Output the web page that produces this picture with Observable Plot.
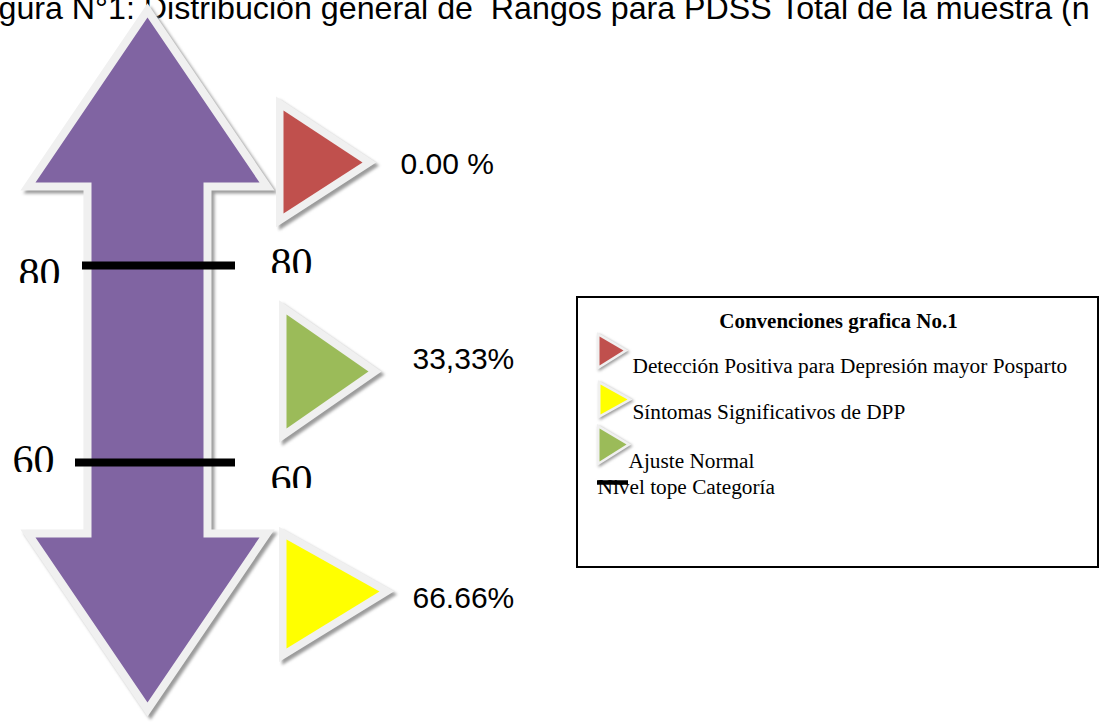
<!DOCTYPE html>
<html>
<head>
<meta charset="utf-8">
<script src="https://cdn.jsdelivr.net/npm/d3@7"></script>
<script src="https://cdn.jsdelivr.net/npm/@observablehq/plot@0.6"></script>
<style>
  html, body { margin: 0; padding: 0; background: #fff; overflow: hidden; }
  #chart svg { display: block; }
</style>
</head>
<body>
<div id="chart"></div>
<script>
// ---------------- DATA ----------------
const titleText = "gura N°1: Distribución general de  Rangos para PDSS Total de la muestra (n";
const levels = [80, 60];                       // category cut-off scores
const bandCategories = [                       // bands from top to bottom
  "Detección Positiva para Depresión mayor Posparto",
  "Ajuste Normal",
  "Síntomas Significativos de DPP"
];
const bandPercentLabels = ["0.00 %", "33,33%", "66.66%"];
const legendTitle = "Convenciones grafica No.1";
const legendCategories = [
  "Detección Positiva para Depresión mayor Posparto",
  "Síntomas Significativos de DPP",
  "Ajuste Normal"
];
const legendLineLabel = "Nivel tope Categoría";

// ---------------- LAYOUT (pixel frame) ----------------
const W = 1102, H = 723;
const arrowGeom = {cx: 147, tipTop: 17, tipBottom: 702, headTop: 182, headBottom: 537, headHalf: 112, shaftHalf: 56};
const levelGeom = {
  80: {y: 265, x1: 82, x2: 235, leftX: 18, leftBase: 286, leftClip: 283, rightX: 270, rightBase: 276, rightClip: 273},
  60: {y: 462, x1: 75, x2: 235, leftX: 12, leftBase: 473, leftClip: 472, rightX: 270, rightBase: 493, rightClip: 488}
};
const bandGeom = [
  {left: 283, top: 110, bottom: 213, tipX: 362, tipY: 162, labelX: 400, labelBase: 173},
  {left: 286, top: 314, bottom: 428, tipX: 368, tipY: 371, labelX: 412, labelBase: 368},
  {left: 286, top: 539, bottom: 648, tipX: 379, tipY: 591, labelX: 412, labelBase: 607}
];
const legendGeom = {
  box: {x1: 577, x2: 1098, y1: 297, y2: 567},
  title: {x: 838, base: 327},
  items: [
    {left: 599, top: 336, bottom: 365, tipX: 623, tipY: 350, textX: 632, textBase: 372},
    {left: 600, top: 384, bottom: 414, tipX: 627, tipY: 399, textX: 632, textBase: 418},
    {left: 599, top: 428, bottom: 461, tipX: 626, tipY: 444, textX: 628, textBase: 467}
  ],
  line: {x1: 597, x2: 628, y: 482, textX: 597, textBase: 493}
};

const colorRange = ["#C0504D", "#9BBB59", "#FFFF00"];
const purple = "#8064A2", border = "#f0f0f0", shadow = "#9b9b9b";

// polygon helper: closed path starting at the middle of the first edge
function poly(id, cat, pts) {
  const a = pts[0], b = pts[1];
  const mid = [(a[0] + b[0]) / 2, (a[1] + b[1]) / 2];
  const seq = [mid, ...pts.slice(1), a, mid];
  return seq.map(([x, y]) => ({id, cat, x, y}));
}
const tri = g => [[g.left, g.top], [g.tipX, g.tipY], [g.left, g.bottom]];

const A = arrowGeom;
const arrowRows = poly("arrow", null, [
  [A.cx - A.shaftHalf, A.headTop],
  [A.cx - A.headHalf, A.headTop],
  [A.cx, A.tipTop],
  [A.cx + A.headHalf, A.headTop],
  [A.cx + A.shaftHalf, A.headTop],
  [A.cx + A.shaftHalf, A.headBottom],
  [A.cx + A.headHalf, A.headBottom],
  [A.cx, A.tipBottom],
  [A.cx - A.headHalf, A.headBottom],
  [A.cx - A.shaftHalf, A.headBottom]
]);
const bandTriRows = bandCategories.flatMap((c, i) => poly("band" + i, c, tri(bandGeom[i])));
const legendTriRows = legendCategories.flatMap((c, i) => poly("leg" + i, c, tri(legendGeom.items[i])));

const levelRows = levels.map(v => ({v, ...levelGeom[v]}));
const bandLabelRows = bandPercentLabels.map((t, i) => ({t, ...bandGeom[i]}));
const legendTextRows = legendCategories.map((t, i) => ({t, ...legendGeom.items[i]}));

const polyOpts = {x: "x", y: "y", z: "id", curve: "linear", strokeLinejoin: "miter", strokeMiterlimit: 10, strokeLinecap: "butt"};

const chart = Plot.plot({
  width: W, height: H,
  margin: 0,
  x: {domain: [0, W], range: [0, W], axis: null},
  y: {domain: [0, H], range: [0, H], axis: null},
  color: {type: "ordinal", domain: bandCategories, range: colorRange},
  style: {background: "white", overflow: "hidden"},
  marks: [
    // title
    Plot.text([titleText], {x: -2, y: 18, text: d => d, textAnchor: "start", lineAnchor: "bottom",
      fontFamily: "Liberation Sans, Arial, sans-serif", fontSize: 32.2, fill: "black"}),

    // arrow: shadow, border, fill
    Plot.line(arrowRows, {...polyOpts, fill: shadow, stroke: shadow, strokeWidth: 16, dx: 3, dy: 3}),
    Plot.line(arrowRows, {...polyOpts, fill: border, stroke: border, strokeWidth: 16}),
    Plot.line(arrowRows, {...polyOpts, fill: purple, stroke: "none"}),

    // level lines
    Plot.ruleY(levelRows, {y: "y", x1: "x1", x2: "x2", stroke: "black", strokeWidth: 8}),

    // level labels (clipped like the original)
    Plot.text(levelRows, {x: "leftX", y: "leftBase", text: d => String(d.v), textAnchor: "start", lineAnchor: "bottom",
      fontFamily: "Liberation Serif, Times New Roman, serif", fontSize: 42, fill: "black"}),
    Plot.text(levelRows, {x: "rightX", y: "rightBase", text: d => String(d.v), textAnchor: "start", lineAnchor: "bottom",
      fontFamily: "Liberation Serif, Times New Roman, serif", fontSize: 42, fill: "black"}),
    Plot.rect(levelRows, {x1: d => d.leftX - 8, x2: d => d.leftX + 54, y1: "leftClip", y2: d => d.leftClip + 16, fill: "white"}),
    Plot.rect(levelRows, {x1: d => d.rightX - 6, x2: d => d.rightX + 56, y1: "rightClip", y2: d => d.rightClip + 16, fill: "white"}),

    // band triangles
    Plot.line(bandTriRows, {...polyOpts, fill: shadow, stroke: shadow, strokeWidth: 15, dx: 3, dy: 3}),
    Plot.line(bandTriRows, {...polyOpts, fill: border, stroke: border, strokeWidth: 15}),
    Plot.line(bandTriRows, {...polyOpts, fill: "cat", stroke: "none"}),

    // band percentages
    Plot.text(bandLabelRows, {x: "labelX", y: "labelBase", text: "t", textAnchor: "start", lineAnchor: "bottom",
      fontFamily: "Liberation Sans, Arial, sans-serif", fontSize: 30, fill: "black"}),

    // legend box
    Plot.rect([legendGeom.box], {x1: "x1", x2: "x2", y1: "y1", y2: "y2", fill: "none", stroke: "black", strokeWidth: 2}),
    Plot.text([legendTitle], {x: legendGeom.title.x, y: legendGeom.title.base, text: d => d, textAnchor: "middle", lineAnchor: "bottom",
      fontFamily: "Liberation Serif, Times New Roman, serif", fontSize: 21, fontWeight: "bold", fill: "black"}),
    Plot.line(legendTriRows, {...polyOpts, fill: shadow, stroke: shadow, strokeWidth: 5, dx: 1.5, dy: 1.5}),
    Plot.line(legendTriRows, {...polyOpts, fill: border, stroke: border, strokeWidth: 5}),
    Plot.line(legendTriRows, {...polyOpts, fill: "cat", stroke: "none"}),
    Plot.text(legendTextRows, {x: "textX", y: "textBase", text: "t", textAnchor: "start", lineAnchor: "bottom",
      fontFamily: "Liberation Serif, Times New Roman, serif", fontSize: 21.3, fill: "black"}),
    Plot.text([legendLineLabel], {x: legendGeom.line.textX, y: legendGeom.line.textBase, text: d => d, textAnchor: "start", lineAnchor: "bottom",
      fontFamily: "Liberation Serif, Times New Roman, serif", fontSize: 21.3, fill: "black"}),
    Plot.ruleY([legendGeom.line], {y: "y", x1: "x1", x2: "x2", stroke: "black", strokeWidth: 4.5})
  ]
});

chart.querySelectorAll(`g[stroke="${shadow}"]`).forEach(g => g.style.filter = "blur(1.5px)");
document.getElementById("chart").appendChild(chart);
</script>
</body>
</html>
